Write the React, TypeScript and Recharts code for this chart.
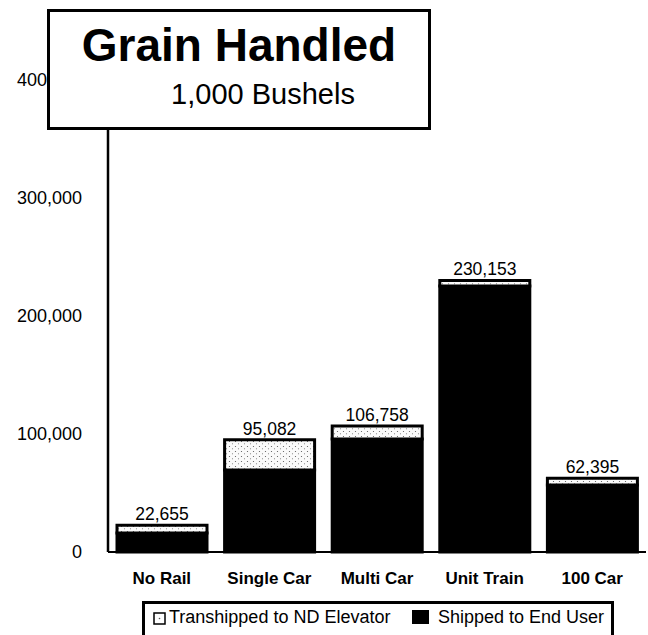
import React from 'react';
import { BarChart, Bar, XAxis, YAxis, LabelList } from 'recharts';

const categories = ['No Rail', 'Single Car', 'Multi Car', 'Unit Train', '100 Car'];
const shippedToEndUser = [16100, 69500, 95800, 225400, 56800];
const transhippedToNdElevator = [6555, 25582, 10958, 4753, 5595];
const totalLabels = [22655, 95082, 106758, 230153, 62395];
const yTicks = [0, 100000, 200000, 300000, 400000];

const FONT = '"Liberation Sans", Arial, sans-serif';

const data = categories.map((name, i) => ({
  name,
  shipped: shippedToEndUser[i],
  transhipped: transhippedToNdElevator[i],
  total: totalLabels[i],
}));

const fmt = (v: number) => v.toLocaleString('en-US');

const TitleBox = () => (
  <div
    style={{
      position: 'absolute',
      left: 47,
      top: 9,
      width: 378,
      height: 115,
      border: '3px solid #000',
      background: '#fff',
      fontFamily: FONT,
      color: '#000',
    }}
  >
    <div style={{ position: 'absolute', top: 7, left: 0, width: '100%', textAlign: 'center', fontSize: 46, fontWeight: 'bold', lineHeight: '52px' }}>
      Grain Handled
    </div>
    <div style={{ position: 'absolute', top: 64, left: 24, width: '100%', textAlign: 'center', fontSize: 29, lineHeight: '36px' }}>
      1,000 Bushels
    </div>
  </div>
);

const LegendBox = () => (
  <div
    style={{
      position: 'absolute',
      left: 142,
      top: 601,
      width: 466,
      height: 60,
      border: '3px solid #000',
      background: '#fff',
      fontFamily: FONT,
      fontSize: 18,
      color: '#000',
    }}
  >
    <svg width={13} height={13} style={{ position: 'absolute', left: 8, top: 8 }}>
      <rect x={1} y={1} width={11} height={11} fill="#fff" stroke="#000" strokeWidth={1.5} />
      <circle cx={6.5} cy={6.5} r={0.8} fill="#555" />
    </svg>
    <span style={{ position: 'absolute', left: 24, top: 3 }}>Transhipped to ND Elevator</span>
    <div style={{ position: 'absolute', left: 267, top: 6, width: 17, height: 14, background: '#000' }} />
    <span style={{ position: 'absolute', left: 293, top: 3 }}>Shipped to End User</span>
  </div>
);

export default function App() {
  return (
    <div style={{ position: 'absolute', left: 0, top: 0, width: 648, height: 635, overflow: 'hidden', background: '#fff' }}>
      <BarChart
        width={648}
        height={635}
        data={data}
        margin={{ top: 80, right: 2, bottom: 43, left: 0 }}
        barCategoryGap={9}
      >
        <defs>
          <pattern id="stipple" width={6} height={5} patternUnits="userSpaceOnUse">
            <rect width={6} height={5} fill="#fafafa" />
            <circle cx={1.5} cy={1.5} r={0.6} fill="#555" />
            <circle cx={4.5} cy={3.8} r={0.55} fill="#777" />
          </pattern>
        </defs>
        <XAxis
          dataKey="name"
          tickLine={false}
          tickSize={6}
          tickMargin={14}
          height={40}
          axisLine={{ stroke: '#000', strokeWidth: 2 }}
          tick={{ fill: '#000', fontSize: 17, fontWeight: 'bold', fontFamily: FONT }}
        />
        <XAxis
          xAxisId="top"
          dataKey="name"
          orientation="top"
          height={0}
          tick={false}
          tickLine={false}
          axisLine={{ stroke: '#000', strokeWidth: 2.5 }}
        />
        <YAxis
          width={108}
          domain={[0, 400000]}
          ticks={yTicks}
          interval={0}
          tickLine={false}
          tickSize={6}
          tickMargin={20}
          tickFormatter={fmt}
          axisLine={{ stroke: '#000', strokeWidth: 2.5 }}
          tick={{ fill: '#000', fontSize: 18, fontFamily: FONT }}
        />
        <YAxis
          yAxisId="right"
          orientation="right"
          width={0}
          domain={[0, 400000]}
          tick={false}
          tickLine={false}
          axisLine={{ stroke: '#000', strokeWidth: 2.5 }}
        />
        <Bar dataKey="shipped" stackId="a" fill="#000" stroke="#000" strokeWidth={3} isAnimationActive={false} />
        <Bar dataKey="transhipped" stackId="a" fill="url(#stipple)" stroke="#000" strokeWidth={3} isAnimationActive={false}>
          <LabelList
            dataKey="total"
            position="top"
            offset={5}
            formatter={(v: any) => fmt(Number(v))}
            style={{ fill: '#000', fontSize: 17.5, fontFamily: FONT }}
          />
        </Bar>
      </BarChart>
      <TitleBox />
      <LegendBox />
    </div>
  );
}
